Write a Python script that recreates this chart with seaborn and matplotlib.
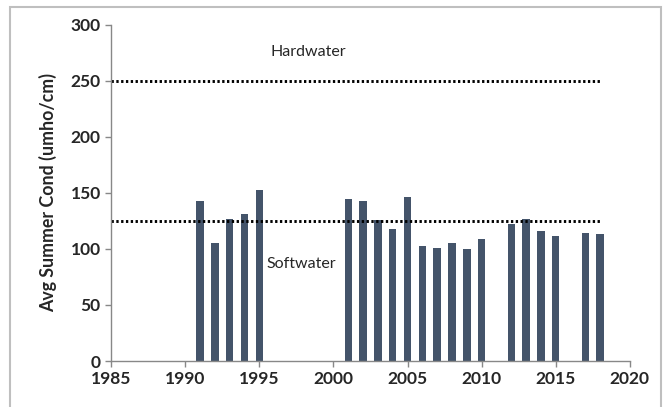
import pandas as pd
import seaborn as sns
import matplotlib.pyplot as plt
from matplotlib.patches import Rectangle

years = [1991, 1992, 1993, 1994, 1995, 2001, 2002, 2003, 2004, 2005, 2006,
         2007, 2008, 2009, 2010, 2012, 2013, 2014, 2015, 2017, 2018]
cond = [143, 105, 127, 131, 153, 145, 143, 126, 118, 146, 103,
        101, 105, 100, 109, 122, 127, 116, 112, 114, 113]
hard_level = 250
soft_level = 125
line_years = [1985, 2018]

sns.set_style("white")
plt.rcParams['font.family'] = ['Lato', 'DejaVu Sans']

df = pd.DataFrame({'Year': years, 'Cond': cond})

fig = plt.figure(figsize=(6.7, 4.07), dpi=100)
ax = fig.add_axes([0.166, 0.113, 0.774, 0.826])
fig.patches.append(Rectangle((10 / 670, -0.1), 651 / 670, 1.1 - 7 / 407,
                             transform=fig.transFigure, fill=False,
                             edgecolor='#bfbfbf', linewidth=1.5))

sns.barplot(data=df, x='Year', y='Cond', native_scale=True, width=0.5,
            color='#44546A', saturation=1, linewidth=0, ax=ax)

dots = (0, (0.8, 0.85))
ax.plot(line_years, [hard_level] * 2, color='black', linestyle=dots, linewidth=2.1)
ax.plot(line_years, [soft_level] * 2, color='black', linestyle=dots, linewidth=2.1)
ax.text(1998.3, 276, 'Hardwater', ha='center', va='center', fontsize=11.5)
ax.text(1997.8, 87, 'Softwater', ha='center', va='center', fontsize=11.5)

ax.set_xlim(1985, 2020)
ax.set_ylim(0, 300)
ax.set_xticks(range(1985, 2021, 5))
ax.set_yticks(range(0, 301, 50))
ax.set_xlabel('')
ax.set_ylabel('Avg Summer Cond (umho/cm)', fontsize=12.8, fontweight='bold', labelpad=10)
for lab in ax.get_xticklabels() + ax.get_yticklabels():
    lab.set_fontweight('bold')
    lab.set_fontsize(12.5)
ax.tick_params(axis='both', direction='out', length=4, color='#888888', width=1,
               bottom=True, left=True)
sns.despine(ax=ax)
for s in ['left', 'bottom']:
    ax.spines[s].set_color('#888888')
    ax.spines[s].set_linewidth(1)

plt.savefig('out.png', dpi=100)
